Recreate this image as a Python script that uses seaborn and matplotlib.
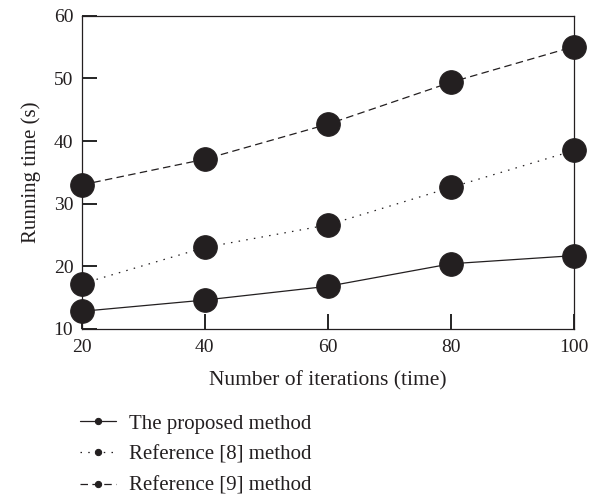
import pandas as pd
import matplotlib
matplotlib.use("Agg")
import matplotlib.pyplot as plt
import seaborn as sns

# Data
iterations = [20, 40, 60, 80, 100]
proposed = [12.8, 14.6, 16.8, 20.4, 21.7]
ref8 = [17.2, 23.0, 26.6, 32.6, 38.5]
ref9 = [33.0, 37.1, 42.7, 49.4, 55.1]
methods = ["The proposed method", "Reference [8] method", "Reference [9] method"]

df = pd.DataFrame({
    "iter": iterations * 3,
    "time": proposed + ref8 + ref9,
    "method": [methods[0]] * 5 + [methods[1]] * 5 + [methods[2]] * 5,
})

ink = "#231f20"
sns.set_theme(style="ticks", rc={"axes.edgecolor": ink, "axes.linewidth": 0.9})
plt.rcParams["font.family"] = ["Liberation Serif", "DejaVu Serif"]

fig = plt.figure(figsize=(5.96, 4.96), dpi=100)
ax = fig.add_axes([0.137, 0.337, 0.8265, 0.631])

sns.lineplot(data=df, x="iter", y="time", style="method", color=ink,
             markers=["o", "o", "o"], dashes=["", (1.2, 5), (6, 3.5)],
             markersize=17, markeredgecolor=ink, lw=0.9, ax=ax,
             legend=True, clip_on=False, zorder=2)

ax.set_xlim(20, 100)
ax.set_ylim(10, 60)
ax.set_xticks(iterations)
ax.set_yticks([10, 20, 30, 40, 50, 60])
ax.tick_params(axis="both", which="major", direction="in", length=10.5,
               width=1.2, color="black", labelsize=14, labelcolor=ink,
               bottom=True, left=True, top=False, right=False)
ax.tick_params(axis="x", pad=7)
ax.tick_params(axis="y", pad=6)
ax.set_xlabel("Number of iterations (time)", fontsize=15.5, color=ink, labelpad=11)
ax.set_ylabel("Running time (s)", fontsize=15, color=ink, labelpad=9)

handles, labels = ax.get_legend_handles_labels()
ax.get_legend().remove()
leg = fig.legend(handles, labels, loc="upper left", bbox_to_anchor=(0.135, 0.165),
                 frameon=False, fontsize=15, handlelength=1.7, handletextpad=0.65,
                 labelspacing=0.55, borderpad=0, borderaxespad=0)
for h in leg.legend_handles:
    h.set_markersize(4.5)
for t in leg.get_texts():
    t.set_color(ink)

plt.savefig("out.png", dpi=100)
